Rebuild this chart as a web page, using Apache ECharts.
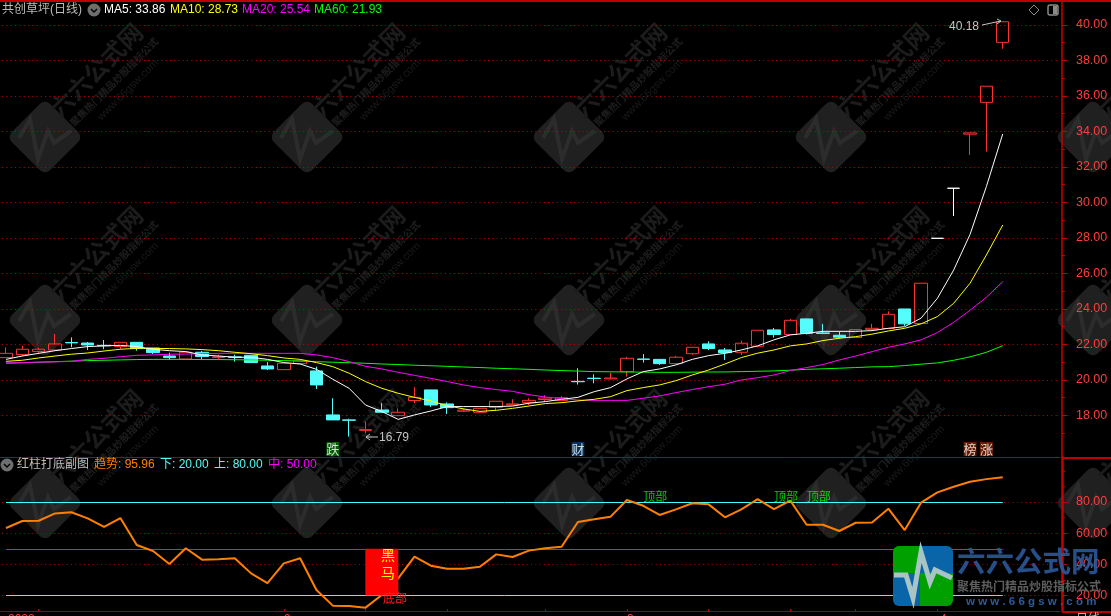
<!DOCTYPE html>
<html><head><meta charset="utf-8">
<style>html,body{margin:0;padding:0;background:#000;overflow:hidden}#c{width:1111px;height:616px}</style>
<script src="https://cdn.jsdelivr.net/npm/echarts@6/dist/echarts.min.js"></script>
</head><body><div id="c"></div>
<script>
const opens=[21.26,21.43,21.60,21.69,22.11,22.08,21.95,21.88,22.12,21.80,21.35,21.18,21.56,21.26,21.30,21.39,20.79,20.58,20.92,20.51,18.03,17.75,17.16,18.31,17.99,18.84,19.44,18.65,18.24,18.18,18.46,18.60,18.72,18.90,18.85,19.92,20.10,20.06,20.47,21.18,21.16,20.92,21.48,22.03,21.69,21.56,21.90,22.82,22.56,23.44,22.65,22.52,22.39,22.85,22.90,24.00,23.18,27.98,30.80,33.85,35.64,39.02];
const closes=[21.50,21.73,21.73,22.03,22.09,21.97,21.93,22.12,21.77,21.54,21.26,21.56,21.32,21.30,21.27,20.98,20.62,20.94,21.07,19.72,17.75,17.73,17.20,18.18,18.18,19.02,18.59,18.44,18.30,18.40,18.80,18.65,18.85,18.98,19.00,19.90,20.08,20.11,21.22,21.16,20.92,21.28,21.84,21.77,21.54,22.07,22.80,22.56,23.36,22.63,22.62,22.41,22.84,22.91,23.70,23.16,25.45,27.98,30.80,33.92,36.55,40.18];
const lows=[21.26,21.35,21.46,21.69,21.84,21.69,21.73,21.73,21.65,21.46,21.13,21.18,21.13,21.16,21.03,20.98,20.56,20.58,20.92,19.49,17.75,16.81,16.99,18.18,17.99,18.69,18.48,18.08,18.20,18.18,18.31,18.60,18.59,18.78,18.85,19.74,19.81,20.03,20.19,20.98,20.85,20.92,21.41,21.69,21.13,21.41,21.84,22.39,22.56,22.56,22.59,22.33,22.39,22.85,22.90,23.05,23.18,27.98,29.24,32.68,32.87,38.66];
const highs=[21.84,21.92,21.82,22.59,22.40,22.14,22.25,22.12,22.12,21.80,21.54,21.56,21.63,21.43,21.43,21.39,21.01,20.94,21.07,20.75,18.97,17.82,17.65,18.69,18.40,19.59,19.44,18.74,18.40,18.40,18.80,18.91,18.97,19.14,19.10,20.66,20.32,20.41,21.30,21.46,21.16,21.35,21.84,22.18,21.80,22.22,22.80,22.93,23.44,23.44,23.16,22.73,22.84,23.16,23.87,24.00,25.45,27.98,30.80,33.92,36.55,40.18];
const ma5=[21.16,21.35,21.50,21.65,21.77,21.88,21.92,21.95,21.88,21.73,21.65,21.60,21.41,21.35,21.28,21.28,21.16,20.98,20.90,20.60,20.04,19.53,18.59,18.22,17.78,18.03,18.25,18.50,18.50,18.50,18.50,18.53,18.69,18.78,18.91,19.02,19.34,19.57,20.06,20.47,20.62,20.85,21.16,21.37,21.50,21.69,21.92,22.26,22.54,22.63,22.74,22.74,22.74,22.78,22.91,23.00,23.48,24.60,26.20,28.20,30.90,33.86];
const ma10=[21.05,21.11,21.24,21.35,21.45,21.52,21.63,21.73,21.78,21.78,21.77,21.75,21.71,21.65,21.56,21.48,21.37,21.24,21.16,20.98,20.75,20.38,19.91,19.53,19.25,19.02,18.82,18.55,18.37,18.23,18.29,18.40,18.53,18.67,18.72,18.82,18.91,19.06,19.40,19.57,19.72,19.96,20.28,20.56,20.90,21.26,21.51,21.69,21.92,22.03,22.22,22.35,22.44,22.58,22.76,22.91,23.16,23.57,24.32,25.45,27.04,28.73];
const ma20=[20.96,20.98,21.00,21.02,21.05,21.16,21.22,21.31,21.39,21.41,21.45,21.46,21.48,21.50,21.50,21.50,21.50,21.50,21.50,21.41,21.26,21.03,20.77,20.62,20.43,20.26,20.09,19.91,19.72,19.57,19.46,19.36,19.17,19.04,18.95,18.87,18.85,18.85,18.85,18.97,19.10,19.29,19.46,19.62,19.76,20.00,20.13,20.28,20.53,20.70,20.87,21.13,21.35,21.60,21.84,22.03,22.26,22.67,23.25,23.93,24.66,25.54];
const ma60=[20.94,20.97,21.00,21.03,21.06,21.09,21.11,21.13,21.15,21.16,21.16,21.16,21.15,21.15,21.14,21.13,21.11,21.09,21.07,21.03,21.00,20.97,20.94,20.90,20.87,20.83,20.80,20.77,20.73,20.70,20.66,20.63,20.60,20.56,20.53,20.50,20.47,20.46,20.45,20.44,20.43,20.43,20.44,20.45,20.45,20.47,20.49,20.51,20.55,20.60,20.63,20.66,20.70,20.74,20.75,20.81,20.89,20.96,21.11,21.30,21.56,21.93];
const trend=[63.3,67.8,68.0,72.7,73.4,69.5,64.0,69.7,52.4,48.6,40.2,50.3,43.0,43.2,43.9,34.2,28.0,40.6,43.9,23.5,13.5,13.3,12.2,20.3,31.0,44.9,39.1,37.2,37.2,38.5,46.4,44.7,48.8,50.3,51.3,67.2,68.9,70.6,81.3,77.6,71.7,75.3,79.2,78.5,70.2,75.3,81.9,75.5,80.9,65.4,65.4,61.4,66.7,66.9,75.7,62.0,79.6,86.2,89.8,93.0,94.7,95.96];
const priceTicks=[18,20,22,24,26,28,30,32,34,36,38,40];
const priceMinor=[17,19,21,23,25,27,29,31,33,35,37,39];
const subTicks=[20,40,60,80];
const subMinor=[30,50,70,90,100];
const topMarks=[[39,"顶部"],[47,"顶部"],[49,"顶部"]];
const signMarks=[[20,"跌","#007000"],[35,"财","#0a3c78"],[59,"榜","#802000"],[60,"涨","#802000"]];
const blackHorse=[23,20,50];
const whiteCandles=[57,58];
const xTicks=[2,17,22,27,33,38,43,48,52,57];
const categories=Array.from({length:65},(_,i)=>String(i));

const FONT='"Liberation Sans","Noto Sans CJK SC",sans-serif';
const CJK='"Noto Sans CJK SC",sans-serif';
const RED='#c80000',LBL='#ff3c3c',CY='#54fcfc',UP='#ff3232';

function txt(x,y,s,c,size,extra){return Object.assign({type:'text',x,y,z:50,silent:true,style:Object.assign({text:s,fill:c,font:(size||12)+'px '+FONT,textVerticalAlign:'middle'},extra||{})});}
function chev(cx,cy){return [
 {type:'circle',shape:{cx,cy,r:6.5},style:{fill:'#6e6e6e'},z:50,silent:true},
 {type:'polyline',shape:{points:[[cx-3,cy-1],[cx,cy+2],[cx+3,cy-1]]},style:{stroke:'#000',lineWidth:1.4,fill:null},z:51,silent:true}];}

const wmXs=[45,307,569,831,1093],wmYs=[137,320,503];
const wm=[];
const rad=Math.PI/4;
wmXs.forEach(x=>wmYs.forEach(y=>{
 wm.push({type:'rect',shape:{x:-27,y:-27,width:54,height:54,r:7},x,y,rotation:rad,style:{fill:'#202020'},z:0,silent:true});
 wm.push({type:'polyline',shape:{points:[[x-26,y+1],[x-15,y-18],[x-7,y+22],[x+3,y-6],[x+9,y+6],[x+26,y-6]]},style:{stroke:'#2c2c2c',lineWidth:4,fill:null},z:0,silent:true});
 wm.push({type:'text',x:x+51,y:y-67,rotation:rad,z:0,silent:true,style:{text:'六六公式网',fill:'#1c1c1c',font:'bold 24px '+CJK,textAlign:'center',textVerticalAlign:'middle'}});
 wm.push({type:'text',x:x+69,y:y-55,rotation:rad,z:0,silent:true,style:{text:'聚焦热门精品炒股指标公式',fill:'#1f1f1f',font:'bold 10px '+CJK,textAlign:'center',textVerticalAlign:'middle'}});
 wm.push({type:'text',x:x+83,y:y-47,rotation:rad,z:0,silent:true,style:{text:'www.66gsw.com',fill:'#1a1a1a',font:'11px '+FONT,textAlign:'center',textVerticalAlign:'middle'}});
}));

const logo=[
 {type:'rect',shape:{x:893,y:546,width:27,height:27,r:[6,0,0,0]},style:{fill:'#00a000'},z:90,silent:true},
 {type:'rect',shape:{x:920,y:546,width:33,height:27,r:[0,6,0,0]},style:{fill:'#0a64a8'},z:90,silent:true},
 {type:'rect',shape:{x:893,y:573,width:27,height:33,r:[0,0,0,6]},style:{fill:'#0a64a8'},z:90,silent:true},
 {type:'rect',shape:{x:920,y:573,width:33,height:33,r:[0,0,6,0]},style:{fill:'#00a000'},z:90,silent:true},
 {type:'polyline',shape:{points:[[894,575],[906,575],[913,598],[921,552],[930,582],[935,570],[952,578]]},style:{stroke:'#a8c4c4',lineWidth:5,fill:null,lineJoin:'miter'},z:91,silent:true},
 {type:'text',x:957,y:561,z:91,silent:true,style:{text:'六六公式网',fill:'#2c5a9c',opacity:.88,font:'bold 28.5px '+CJK,textVerticalAlign:'middle'}},
 {type:'text',x:957,y:586,z:91,silent:true,style:{text:'聚焦热门精品炒股指标公式',fill:'#5e5e5e',font:'bold 12px '+CJK,textVerticalAlign:'middle'}},
 {type:'text',x:966,y:602,z:91,silent:true,style:{text:'w w w . 6 6 g s w . c o m',fill:'#2c5a9c',font:'bold 11.5px '+FONT,textVerticalAlign:'middle'}}
];

const graphics=[].concat(wm,[
 {type:'rect',shape:{x:0,y:0,width:1111,height:2},style:{fill:'#c00000'},z:40,silent:true},
 {type:'rect',shape:{x:1062,y:457,width:49,height:2},style:{fill:'#c00000'},z:40,silent:true},
 {type:'rect',shape:{x:1062,y:611,width:49,height:2},style:{fill:'#c00000'},z:40,silent:true},
 txt(2,10,'共创草坪(日线)','#bdbdbd',12)],
 chev(94,10),[
 txt(104,10,'MA5: 33.86','#ffffff'),txt(170,10,'MA10: 28.73','#ffff00'),txt(242,10,'MA20: 25.54','#ff00ff'),txt(314,10,'MA60: 21.93','#00ff00'),
 {type:'polygon',shape:{points:[[1034,5],[1039,10],[1034,15],[1029,10]]},style:{stroke:'#8a8a8a',fill:null},z:50,silent:true},
 {type:'rect',shape:{x:1048,y:5,width:10,height:10,r:2},style:{stroke:'#8a8a8a',fill:null,lineWidth:1.5},z:50,silent:true},
 {type:'rect',shape:{x:1053,y:6,width:4,height:8},style:{fill:'#8a8a8a'},z:50,silent:true}],
 chev(7,465),[
 txt(17,465,'红柱打底副图','#bdbdbd'),txt(94,465,'趋势: 95.96','#ff8000'),txt(160,465,'下: 20.00',CY),txt(214,465,'上: 80.00',CY),txt(268,465,'中: 50.00','#ff00ff'),
 txt(949,27,'40.18','#c4c4c4'),
 {type:'polyline',shape:{points:[[982,25],[1001,21]]},style:{stroke:'#c4c4c4',fill:null},z:50,silent:true},
 {type:'polyline',shape:{points:[[997,19],[1001,21],[997,24]]},style:{stroke:'#c4c4c4',fill:null},z:50,silent:true},
 txt(379,438,'16.79','#c4c4c4'),
 {type:'polyline',shape:{points:[[378,437],[366,437]]},style:{stroke:'#c4c4c4',fill:null},z:50,silent:true},
 {type:'polyline',shape:{points:[[370,434],[366,437],[370,440]]},style:{stroke:'#c4c4c4',fill:null},z:50,silent:true},
 txt(381,556,'黑','#ffff00',14),txt(381,574,'马','#ffff00',14),
 txt(383,600,'底部','#ff2020',12),
 txt(8,620,'2022',LBL),txt(284,620,'2',LBL),txt(627,620,'3',LBL),txt(940,620,'4',LBL),txt(1076,620,'日线','#bdbdbd')
],logo);

const candleData=opens.map((o,i)=>{
 const v=[o,closes[i],lows[i],highs[i]];
 return whiteCandles.includes(i)?{value:v,itemStyle:{color:'#fff',color0:'#fff',borderColor:'#fff',borderColor0:'#fff',borderColorDoji:'#fff'}}:v;
});
const ln=(name,data,color)=>({name,type:'line',data,symbol:'none',lineStyle:{color,width:1},z:5,silent:true,animation:false});
const levelLine=(v,c)=>[{coord:[0,v],lineStyle:{color:c,width:1,type:'solid'}},{coord:[61,v]}];

const chart=echarts.init(document.getElementById('c'),null,{renderer:'canvas'});
const hiddenX=(g)=>({type:'category',gridIndex:g,data:categories,boundaryGap:true,axisLabel:{show:false},splitLine:{show:false}});
chart.setOption({
 animation:false,backgroundColor:'#000',
 graphic:{elements:graphics},
 grid:[{left:-2.17,width:1062.1,top:1,height:456,outerBoundsMode:'none'},{left:-2.17,width:1062.1,top:457,height:154,outerBoundsMode:'none'}],
 xAxis:[
  Object.assign(hiddenX(0),{axisLine:{show:true,onZero:false,lineStyle:{color:'#a00000'}},axisTick:{show:false}}),
  Object.assign(hiddenX(1),{axisLine:{show:true,onZero:false,lineStyle:{color:'#a00000'}},axisTick:{show:true,inside:true,length:2,alignWithLabel:true,lineStyle:{color:'#c00000'},interval:(i)=>xTicks.includes(i)}})
 ],
 yAxis:[
  {type:'value',gridIndex:0,position:'right',offset:2,min:15.66,max:41.35,axisLine:{show:true,lineStyle:{color:RED,width:1.5}},axisTick:{show:true,length:5,customValues:priceTicks,lineStyle:{color:RED}},axisLabel:{color:LBL,margin:14,fontFamily:'Liberation Sans',fontSize:12.5,customValues:priceTicks,formatter:v=>v.toFixed(2)},splitLine:{show:true,lineStyle:{color:RED,type:[1,3.3],width:1}}},
  {type:'value',gridIndex:0,position:'right',offset:2,min:15.66,max:41.35,axisLine:{show:false},axisTick:{show:true,length:3,customValues:priceMinor,lineStyle:{color:RED}},axisLabel:{show:false,customValues:priceMinor},splitLine:{show:false}},
  {type:'value',gridIndex:1,position:'right',offset:2,min:10.05,max:108.9,axisLine:{show:true,lineStyle:{color:RED,width:2.5}},axisTick:{show:true,length:5,customValues:subTicks,lineStyle:{color:RED}},axisLabel:{color:LBL,margin:14,fontFamily:'Liberation Sans',fontSize:12.5,customValues:subTicks,formatter:v=>v.toFixed(2)},splitLine:{show:true,lineStyle:{color:'#a80000',type:[1,3.3],width:1}}},
  {type:'value',gridIndex:1,position:'right',offset:2,min:10.05,max:108.9,axisLine:{show:false},axisTick:{show:true,length:3,customValues:subMinor,lineStyle:{color:RED}},axisLabel:{show:false,customValues:subMinor},splitLine:{show:false}}
 ],
 series:[
  {name:'K',type:'candlestick',xAxisIndex:0,yAxisIndex:0,data:candleData,barWidth:13,z:3,silent:true,
   itemStyle:{color:'rgba(0,0,0,0)',color0:CY,borderColor:UP,borderColor0:CY,borderColorDoji:CY,borderWidth:1}},
  ln('MA60',ma60,'#00ff00'),ln('MA20',ma20,'#ff00ff'),ln('MA10',ma10,'#ffff00'),ln('MA5',ma5,'#ffffff'),
  {type:'scatter',xAxisIndex:0,yAxisIndex:0,symbolSize:0,z:8,silent:true,
   data:signMarks.map(m=>({value:[m[0],16.11],label:{show:true,position:'inside',formatter:m[1],color:'#fff',fontFamily:'Noto Sans CJK SC',fontSize:13,lineHeight:14,backgroundColor:m[2],padding:0}}))},
  {name:'trend',type:'line',xAxisIndex:1,yAxisIndex:2,data:trend,symbol:'none',lineStyle:{color:'#ff8000',width:2},z:5,silent:true,
   markLine:{silent:true,symbol:'none',label:{show:false},animation:false,data:[levelLine(20,'#40ffff'),levelLine(50,'#e000e0'),levelLine(80,'#40ffff')]}},
  {type:'bar',xAxisIndex:1,yAxisIndex:2,stack:'h',barWidth:33,z:6,silent:true,itemStyle:{color:'rgba(0,0,0,0)'},data:categories.map((_,i)=>i===blackHorse[0]?blackHorse[1]:null)},
  {type:'bar',xAxisIndex:1,yAxisIndex:2,stack:'h',barWidth:33,z:6,silent:true,itemStyle:{color:'#ff0000'},data:categories.map((_,i)=>i===blackHorse[0]?blackHorse[2]-blackHorse[1]:null)},
  {type:'scatter',xAxisIndex:1,yAxisIndex:2,symbolSize:0,z:8,silent:true,
   data:topMarks.map(m=>({value:[m[0],83.5],label:{show:true,position:'right',distance:0,formatter:m[1],color:'#00ff00',fontFamily:'Noto Sans CJK SC',fontSize:12}}))}
 ]
});
</script></body></html>
